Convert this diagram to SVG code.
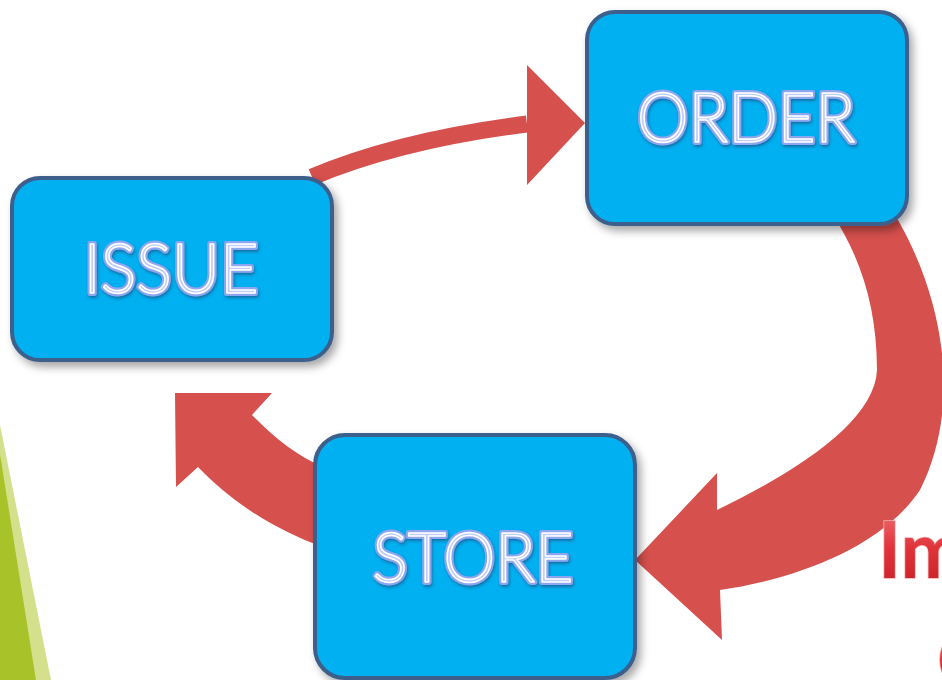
<svg xmlns="http://www.w3.org/2000/svg" width="942" height="680" viewBox="0 0 942 680">
<defs>
<filter id="sh" x="-20%" y="-20%" width="140%" height="140%">
<feDropShadow dx="4" dy="5" stdDeviation="4" flood-color="#000" flood-opacity="0.35"/>
</filter>
<filter id="tsh" x="-10%" y="-20%" width="120%" height="140%">
<feDropShadow dx="1" dy="2" stdDeviation="1.5" flood-color="#1a3a6a" flood-opacity="0.55"/>
</filter>
<linearGradient id="rg" x1="0" y1="0" x2="0" y2="1">
<stop offset="0" stop-color="#f07a78"/>
<stop offset="0.5" stop-color="#e0333a"/>
<stop offset="1" stop-color="#c41f27"/>
</linearGradient>
<style>
.box{fill:#00b0f0;stroke:#3c5f8c;stroke-width:4}
.lbl{font-family:Lato,"Open Sans","Liberation Sans",sans-serif;font-weight:300;font-size:68px;text-anchor:middle;stroke-linejoin:round}
.lo{fill:#8ea6ef;stroke:#8ea6ef;stroke-width:6}
.hi{fill:#c2cefa;stroke:#ffffff;stroke-width:1.6}
.arrow{fill:#d6504d}
.red{font-family:Lato,"Liberation Sans",sans-serif;font-weight:bold;font-size:78px;fill:url(#rg);stroke:#f4b0b0;stroke-width:1.5;paint-order:stroke}
</style>
</defs>
<rect width="942" height="680" fill="#ffffff"/>
<polygon points="0,425 51,680 0,680" fill="#d4e08c"/>
<polygon points="0,454 36,680 0,680" fill="#a8c22a"/>
<g id="connectors">
<path d="M 312 177 Q 400 140 527 124" fill="none" stroke="#d6504d" stroke-width="17"/>
<polygon class="arrow" points="527,65 585,123 527,185"/>
<path class="arrow" d="M 833 215 L 895 215 C 940 290 965 400 920 490 C 880 550 790 580 720 590 L 722 640 L 635 560 L 717 473 L 717 510 C 800 470 875 420 877 370 C 877 310 862 260 833 215 Z"/>
<path class="arrow" d="M 175 393 L 272 393 L 252 415 C 275 438 295 455 325 468 L 325 548 C 270 528 230 500 198 467 L 176 487 Z"/>
</g>
<g id="issue" filter="url(#sh)">
<rect class="box" x="12" y="178" width="320" height="182" rx="28"/>
<text class="lbl lo" x="171" y="293" textLength="175" lengthAdjust="spacingAndGlyphs" filter="url(#tsh)">ISSUE</text>
<text class="lbl hi" x="171" y="293" textLength="175" lengthAdjust="spacingAndGlyphs">ISSUE</text>
</g>
<g id="order" filter="url(#sh)">
<rect class="box" x="587" y="12" width="320" height="212" rx="28"/>
<text class="lbl lo" x="746" y="142" textLength="218" lengthAdjust="spacingAndGlyphs" filter="url(#tsh)">ORDER</text>
<text class="lbl hi" x="746" y="142" textLength="218" lengthAdjust="spacingAndGlyphs">ORDER</text>
</g>
<g id="store" filter="url(#sh)">
<rect class="box" x="315" y="435" width="320" height="243" rx="30"/>
<text class="lbl lo" x="473" y="582" textLength="201" lengthAdjust="spacingAndGlyphs" filter="url(#tsh)">STORE</text>
<text class="lbl hi" x="473" y="582" textLength="201" lengthAdjust="spacingAndGlyphs">STORE</text>
</g>
<text class="red" x="878" y="578">Im</text>
<text class="red" x="937" y="688">C</text>
</svg>
